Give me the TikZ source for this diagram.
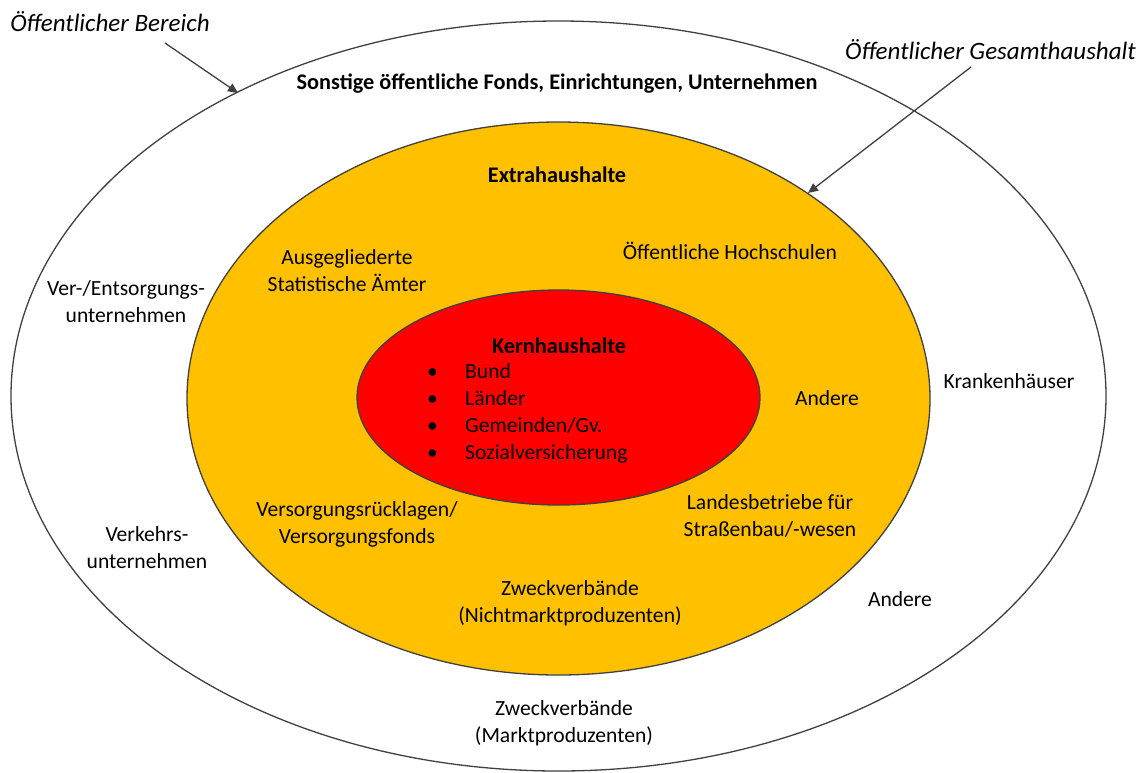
\documentclass[tikz,border=0pt]{standalone}
\usepackage{fontspec}
\setmainfont{Carlito}
\usetikzlibrary{arrows.meta,shapes.geometric}
\definecolor{ringgray}{HTML}{404040}
\definecolor{extraorange}{HTML}{FFC000}
\definecolor{kernred}{HTML}{FF0000}
\begin{document}
\begin{tikzpicture}[x=1pt,y=-1pt,
  lbl/.style={font=\fontsize{21.6}{27}\selectfont, align=center, inner sep=0pt},
  ttl/.style={lbl, font=\fontsize{22.3}{27}\selectfont\bfseries},
  capt/.style={font=\fontsize{25}{30}\selectfont\itshape, inner sep=0pt},
  ring/.style={ellipse, draw=ringgray, line width=1.3pt, inner sep=0pt},
  pointer/.style={draw=ringgray, line width=1.3pt, -{Triangle[length=10pt,width=9pt]}}]
\useasboundingbox (0,0) rectangle (1143,772);
% rings
\node[ring, fill=white, minimum width=1095pt, minimum height=750pt] (outer) at (558.5,396) {};
\node[ring, fill=extraorange, minimum width=743pt, minimum height=553pt] (middle) at (558.5,398.5) {};
\node[ring, fill=kernred, minimum width=403pt, minimum height=215pt] (inner) at (558.5,397.5) {};
% captions and pointers
\node[capt] (bereich) at (110,22) {Öffentlicher Bereich};
\node[capt] (gesamt) at (990.5,50) {Öffentlicher Gesamthaushalt};
\coordinate (bStart) at (165,43);
\coordinate (bEnd) at (238,93);
\coordinate (gStart) at (971,67);
\coordinate (gEnd) at (808,193);
\draw[pointer] (bStart) -- (bEnd);
\draw[pointer] (gStart) -- (gEnd);
% titles
\node[ttl] (sonstige) at (557,84) {Sonstige öffentliche Fonds, Einrichtungen, Unternehmen};
\node[ttl] (extra) at (557,175) {Extrahaushalte};
\node[ttl] (kern) at (559,346) {Kernhaushalte};
\node[lbl, align=left, anchor=west] (kernlist) at (427,413)
  {\makebox[38pt][l]{\textbullet}Bund\\
   \makebox[38pt][l]{\textbullet}Länder\\
   \makebox[38pt][l]{\textbullet}Gemeinden/Gv.\\
   \makebox[38pt][l]{\textbullet}Sozialversicherung};
% outer ring labels
\node[lbl] (verent) at (126,302) {Ver-/Entsorgungs-\\unternehmen};
\node[lbl] (verkehr) at (147,548) {Verkehrs-\\unternehmen};
\node[lbl] (kranken) at (1009,381) {Krankenhäuser};
\node[lbl] (andereA) at (900,599) {Andere};
\node[lbl] (zweckM) at (564,723) {Zweckverbände\\(Marktproduzenten)};
% middle ring labels
\node[lbl] (ausgegl) at (347,271) {Ausgegliederte\\Statistische Ämter};
\node[lbl] (hochsch) at (730,251) {Öffentliche Hochschulen};
\node[lbl] (andereB) at (827,398) {Andere};
\node[lbl] (landes) at (770,516) {Landesbetriebe für\\Straßenbau/-wesen};
\node[lbl] (versorg) at (357,524) {Versorgungsrücklagen/\\Versorgungsfonds};
\node[lbl] (zweckN) at (570,603) {Zweckverbände\\(Nichtmarktproduzenten)};
\end{tikzpicture}
\end{document}
